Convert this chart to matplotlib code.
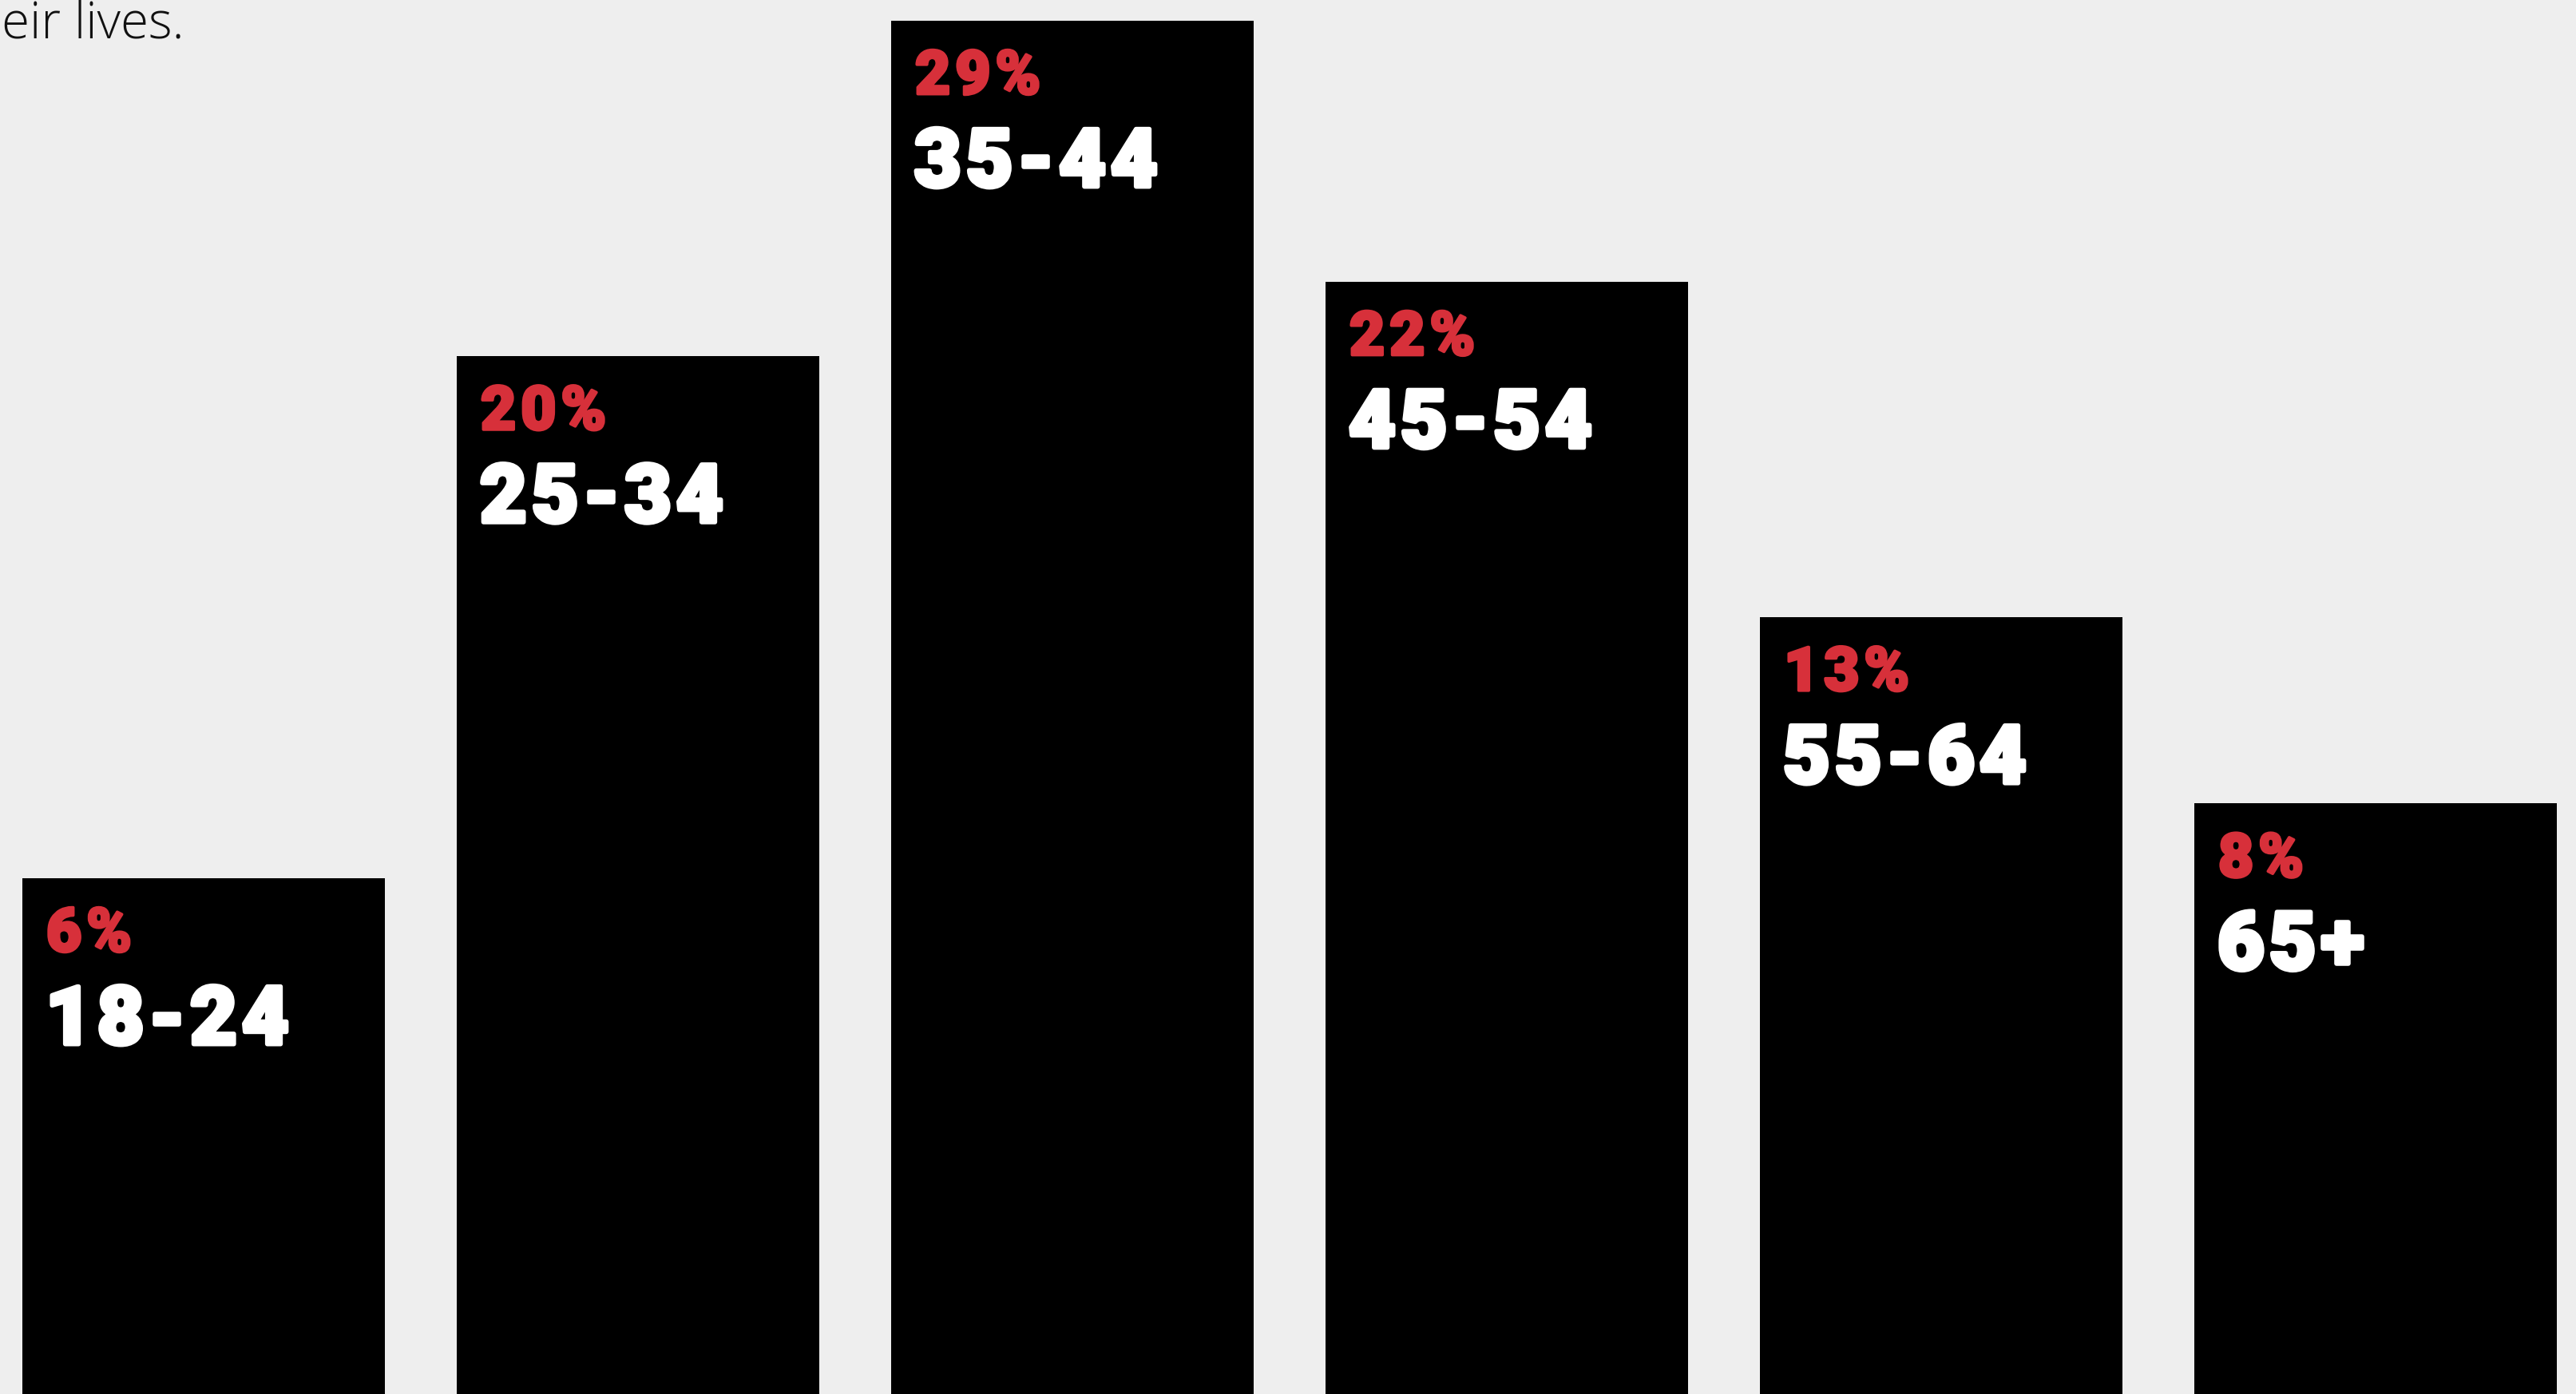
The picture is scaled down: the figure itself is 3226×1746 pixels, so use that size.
import matplotlib
matplotlib.use("Agg")
import matplotlib.pyplot as plt
import matplotlib.patheffects as pe
from matplotlib import font_manager
from matplotlib.font_manager import FontProperties

# age groups and their share of respondents
grupos = ["18-24", "25-34", "35-44", "45-54", "55-64", "65+"]
porcentajes = [6, 20, 29, 22, 13, 8]

FONDO = "#eeeeee"
ROJO = "#d7303a"

PESOS = {"ultralight": 200, "light": 300, "normal": 400, "regular": 400, "book": 400,
         "medium": 500, "semibold": 600, "demibold": 600, "bold": 700,
         "extra bold": 800, "heavy": 900, "black": 900}


def peso(f):
    w = f.weight
    return w if isinstance(w, int) else PESOS.get(str(w).lower(), 400)


def fuente_mas_gruesa():
    # heaviest upright face among the installed sans families
    familias = ["Roboto", "Lato", "Inter", "Open Sans", "Noto Sans", "Liberation Sans"]
    mejor = None
    for f in font_manager.fontManager.ttflist:
        if f.name not in familias or f.style != "normal":
            continue
        if "condensed" in f.fname.lower() or f.stretch not in ("normal", 500):
            continue
        clave = (peso(f), -familias.index(f.name))
        if mejor is None or clave > mejor[0]:
            mejor = (clave, f)
    return mejor[1].fname if mejor else None


ruta = fuente_mas_gruesa()
fp_rojo = FontProperties(fname=ruta, size=55) if ruta else FontProperties(weight="bold", size=55)
fp_blanco = FontProperties(fname=ruta, size=73) if ruta else FontProperties(weight="bold", size=73)

ancho, alto, dpi = 3226, 1746, 100
fig = plt.figure(figsize=(ancho / dpi, alto / dpi), dpi=dpi, facecolor=FONDO)
ax = fig.add_axes([0, 0, 1, 1])
ax.set_facecolor(FONDO)

# value axis starts below zero so the short bars keep room for their labels
y0, y1 = -7.84, 29.55
ax.set_xlim(-0.46875, 5.4614)
ax.set_ylim(y0, y1)

x = list(range(len(grupos)))
alturas = [p - y0 for p in porcentajes]
ax.bar(x, alturas, bottom=y0, width=0.8346, color="black", align="center")

renderer = fig.canvas.get_renderer()


def texto_espaciado(xy, texto, dx, dy, color, fp, grosor, espacio):
    # draws one glyph at a time so the label gets extra tracking
    efecto = [pe.withStroke(linewidth=grosor, foreground=color)]
    for ch in texto:
        t = ax.annotate(ch, xy, xytext=(dx, dy), textcoords="offset pixels",
                        color=color, fontproperties=fp, ha="left", va="baseline",
                        path_effects=efecto)
        dx += t.get_window_extent(renderer).width + espacio


for i, (g, p) in enumerate(zip(grupos, porcentajes)):
    izq = i - 0.8346 / 2
    texto_espaciado((izq, p), f"{p}%", 30, -92, ROJO, fp_rojo, 2.6, 6)
    texto_espaciado((izq, p), g, 29, -208, "white", fp_blanco, 4.0, 6)

# tail of the subtitle sitting above the chart
fig.text(2 / ancho, 1 - 48 / alto, "eir lives.", ha="left", va="baseline",
         fontsize=46, fontweight="light", family=["Open Sans", "Lato", "DejaVu Sans"],
         color="#111111")

ax.axis("off")
fig.savefig("out.png", dpi=dpi, facecolor=FONDO)
